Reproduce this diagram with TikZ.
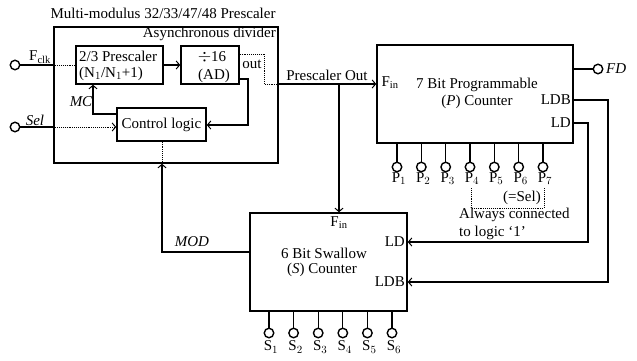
\documentclass[tikz,border=0pt]{standalone}
\usepackage{fontspec}
\setmainfont{Liberation Serif}
\usetikzlibrary{arrows.meta}
\begin{document}
\begin{tikzpicture}[x=1pt,y=-1pt,
  every node/.style={font=\fontsize{15}{17}\selectfont, inner sep=0pt},
  box/.style={draw, line width=1.4pt, rectangle, inner sep=0pt},
  wire/.style={line width=1.3pt},
  dot/.style={densely dotted, line width=0.9pt},
  arr/.style={-{Straight Barb[length=3.5pt,width=8pt,line width=1pt]}},
  pinc/.style={draw, line width=1.4pt, circle, fill=white, minimum size=9.5pt, inner sep=0pt},
  lbl/.style={inner sep=0pt}]
\useasboundingbox (0,0) rectangle (637,361);
% title and outer box
\node (title) at (163,13) {Multi-modulus 32/33/47/48 Prescaler};
\node[box, minimum width=224pt, minimum height=136pt] (outer) at (166,95) {};
\node[anchor=east] (async) at (276,34) {Asynchronous divider};
% inner blocks
\node[box, minimum width=87pt, minimum height=38pt] (pre) at (119.5,65) {};
\node[anchor=west] (pret1) at (79,56) {2/3 Prescaler};
\node[anchor=west] (pret2) at (79,74) {(N$_1$/N$_1$+1)};
\node[box, minimum width=58pt, minimum height=38pt] (div) at (210,65) {};
\node (divt1) at (212,57) {{\LARGE$\div$}16};
\node (divt2) at (214,76) {(AD)};
\node (outl) at (252,64) {out};
\node[box, minimum width=89pt, minimum height=33pt] (ctrl) at (161.5,124.5) {Control logic};
% pins Fclk / Sel
\node[pinc] (fclk) at (15,65) {};
\node (fclkl) at (40,57) {F$_{\mathrm{clk}}$};
\node[pinc] (sel) at (15,127) {};
\node (sell) at (35,120) {\itshape Sel};
\draw[wire] (fclk.east) -- (fclk.east -| outer.west);
\draw[dot] (fclk.east -| outer.west) -- (fclk.east -| pre.west);
\draw[wire] (sel.east) -- (sel.east -| outer.west);
\draw[dot, arr] (sel.east -| outer.west) -- (sel.east -| ctrl.west);
% prescaler to divider
\draw[wire, arr] (pre.east) -- (div.west);
% MC
\coordinate (mcA) at (93,114);
\draw[wire, arr] (mcA -| ctrl.west) -- (mcA) -- (mcA |- pre.south);
\node (mcl) at (81,102) {\itshape MC};
% divider lower output to control
\coordinate (fbA) at (248,79);
\coordinate (fbB) at (248,125);
\draw[wire, arr] (fbA -| div.east) -- (fbA) -- (fbB) -- (fbB -| ctrl.east);
% divider out (dotted) to prescaler out
\coordinate (oA) at (264,54);
\coordinate (oB) at (264,84);
\draw[dot] (oA -| div.east) -- (oA) -- (oB) -- (oB -| outer.east);
% P counter
\node[box, minimum width=196pt, minimum height=98pt] (pc) at (475,94) {};
\node (pct1) at (477,85) {7 Bit Programmable};
\node (pct2) at (477,102) {(\textit{P}) Counter};
\node (pfin) at (390,83) {F$_{\mathrm{in}}$};
\node[anchor=east] (pldb) at (571,100) {LDB};
\node[anchor=east] (pld) at (571,123) {LD};
\draw[wire, arr] (oB -| outer.east) -- (oB -| pc.west);
\node (pso) at (327,75) {Prescaler Out};
% FD
\node[pinc] (fd) at (598,69) {};
\node[anchor=west] (fdl) at (606,69) {\itshape FD};
\draw[wire] (fd.west -| pc.east) -- (fd.west);
% S counter
\node[box, minimum width=157pt, minimum height=98pt] (sc) at (328.5,262) {};
\node (sct1) at (324,253) {6 Bit Swallow};
\node (sct2) at (322,270) {(\textit{S}) Counter};
\node (sfin) at (339,223) {F$_{\mathrm{in}}$};
\node[anchor=east] (sld) at (405,242) {LD};
\node[anchor=east] (sldb) at (405,282) {LDB};
\coordinate (jn) at (339,84);
\draw[wire, arr] (jn) -- (jn |- sc.north);
% MOD
\coordinate (modA) at (162,252);
\draw[wire, arr] (modA -| sc.west) -- (modA) -- (modA |- outer.south);
\draw[dot] (modA |- ctrl.south) -- (modA |- outer.south);
\node (modl) at (192,242) {\itshape MOD};
% LD / LDB feedback
\coordinate (ldA) at (588,123);
\coordinate (ldB) at (588,242);
\draw[wire, arr] (ldA -| pc.east) -- (ldA) -- (ldB) -- (ldB -| sc.east);
\coordinate (ldbA) at (608,100);
\coordinate (ldbB) at (608,282);
\draw[wire, arr] (ldbA -| pc.east) -- (ldbA) -- (ldbB) -- (ldbB -| sc.east);
% P pins
\foreach \i/\x in {1/397,2/421.3,3/445.7,4/470,5/494.3,6/518.7,7/543} {
  \node[pinc] (pp\i) at (\x,167) {};
  \draw[wire] (pp\i |- pc.south) -- (pp\i.north);
  \node (ppl\i) at (\x+2,179) {P$_{\i}$};
}
% dotted bracket
\coordinate (brA) at (471,188);
\coordinate (brB) at (544,208);
\draw[dot] (brA) -- (brA |- brB) -- (brB) -- (brB |- brA);
\node (seleq) at (522,198) {(=Sel)};
\node[anchor=west] (alw1) at (459,215) {Always connected};
\node[anchor=west] (alw2) at (459,233) {to logic ‘1’};
% S pins
\foreach \i/\x in {1/269,2/293.6,3/318.2,4/342.8,5/367.4,6/392} {
  \node[pinc] (sp\i) at (\x,333) {};
  \draw[wire] (sp\i |- sc.south) -- (sp\i.north);
  \node (spl\i) at (\x+2,347) {S$_{\i}$};
}
\end{tikzpicture}
\end{document}
